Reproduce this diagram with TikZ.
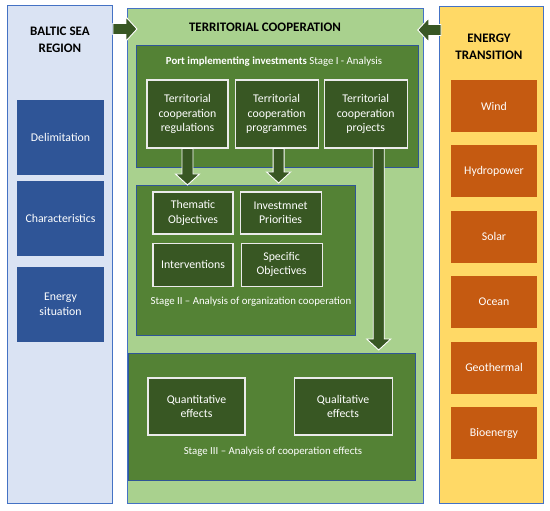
\documentclass[tikz,border=0pt]{standalone}
\usepackage{fontspec}
\setmainfont{Carlito}
\usetikzlibrary{positioning, calc}

\definecolor{balticbg}{HTML}{DAE3F3}
\definecolor{balticbox}{HTML}{2F5597}
\definecolor{panelline}{HTML}{4472C4}
\definecolor{coopbg}{HTML}{A9D18E}
\definecolor{stagebg}{HTML}{548235}
\definecolor{coopbox}{HTML}{385723}
\definecolor{energybg}{HTML}{FFD966}
\definecolor{energybox}{HTML}{C55A11}

\tikzset{
  panel/.style={draw=panelline, line width=0.8pt, anchor=north west, inner sep=0pt},
  stagebox/.style={panel, fill=stagebg, draw=balticbox},
  title/.style={font=\fontsize{13}{17}\selectfont\bfseries, align=center},
  stagetext/.style={text=white, font=\fontsize{10.8}{13}\selectfont},
  boxtext/.style={text=white, align=center, inner sep=0pt, font=\fontsize{11.8}{14.3}\selectfont},
  bluebox/.style={boxtext, fill=balticbox, minimum width=87pt, minimum height=75pt},
  orangebox/.style={boxtext, fill=energybox, minimum width=86pt, minimum height=52pt},
  greenbox/.style={boxtext, fill=coopbox, draw=white!92!black, line width=1.1pt},
  blockarrow/.style={fill=coopbox, draw=white, line width=0.9pt, line join=miter},
}

% block arrow from #2 to the tip #3
\newcommand{\blockarrow}[3][]{%
  \coordinate (ba-a) at #2;
  \coordinate (ba-b) at #3;
  \coordinate (ba-c) at ($(ba-b)!11pt!(ba-a)$);
  \draw[blockarrow,#1] ($(ba-a)!5.5pt!90:(ba-b)$) -- ($(ba-c)!5.5pt!90:(ba-b)$)
    -- ($(ba-c)!12pt!90:(ba-b)$) -- (ba-b) -- ($(ba-c)!12pt!-90:(ba-b)$)
    -- ($(ba-c)!5.5pt!-90:(ba-b)$) -- ($(ba-a)!5.5pt!-90:(ba-b)$) -- cycle;}

\begin{document}
\begin{tikzpicture}[x=1pt, y=-1pt]
  \useasboundingbox (0,0) rectangle (550,511);

  % three columns
  \node[panel, fill=balticbg, minimum width=105pt, minimum height=498pt] (baltic) at (7,5) {};
  \node[panel, fill=coopbg, minimum width=296pt, minimum height=495pt] (coop) at (127,8) {};
  \node[panel, fill=energybg, minimum width=104pt, minimum height=497pt] (energy) at (439,6) {};

  \node[title] (baltictitle) at (60,40) {BALTIC SEA\\REGION};
  \node[title] (cooptitle) at (265,27) {TERRITORIAL COOPERATION};
  \node[title] (energytitle) at (489,47) {ENERGY\\TRANSITION};

  % Baltic Sea Region
  \node[bluebox] (delim) at (60.5,137.5) {Delimitation};
  \node[bluebox] (charact) [below=6pt of delim] {Characteristics};
  \node[bluebox] (situation) [below=10pt of charact] {Energy\\situation};

  % Energy transition
  \node[orangebox] (wind) at (494,106) {Wind};
  \node[orangebox] (hydro) [below=13pt of wind] {Hydropower};
  \node[orangebox] (solar) [below=13pt of hydro] {Solar};
  \node[orangebox] (ocean) [below=13pt of solar] {Ocean};
  \node[orangebox] (geo) [below=13pt of ocean] {Geothermal};
  \node[orangebox] (bio) [below=13pt of geo] {Bioenergy};

  % Stage I
  \node[stagebox, minimum width=282pt, minimum height=122pt] (stageI) at (136,45) {};
  \node[stagetext] (stageItext) at (274,62) {\textbf{Port implementing investments} Stage I - Analysis};
  \node[greenbox, minimum width=81pt, minimum height=68pt] (regul) at (187.5,114) {Territorial\\cooperation\\regulations};
  \node[greenbox, minimum width=83pt, minimum height=68pt] (progr) [right=6pt of regul] {Territorial\\cooperation\\programmes};
  \node[greenbox, minimum width=83pt, minimum height=68pt] (proj) [right=5pt of progr] {Territorial\\cooperation\\projects};

  % Stage II
  \node[stagebox, minimum width=219pt, minimum height=150pt] (stageII) at (136,185) {};
  \node[greenbox, minimum width=80pt, minimum height=42pt] (thematic) at (193,213) {Thematic\\Objectives};
  \node[greenbox, minimum width=81pt, minimum height=42pt] (invest) [right=6pt of thematic] {Investmnet\\Priorities};
  \node[greenbox, minimum width=80pt, minimum height=43pt] (interv) [below=8pt of thematic] {Interventions};
  \node[greenbox, minimum width=81pt, minimum height=43pt] (specific) [right=7pt of interv] {Specific\\Objectives};
  \node[stagetext] (stageIItext) at (251,302) {Stage II -- Analysis of organization cooperation};

  % Stage III
  \node[stagebox, minimum width=287pt, minimum height=127pt] (stageIII) at (128,353) {};
  \node[greenbox, minimum width=97pt, minimum height=57pt] (quant) at (196.5,406.5) {Quantitative\\effects};
  \node[greenbox, minimum width=98pt, minimum height=57pt] (qual) [right=48pt of quant] {Qualitative\\effects};
  \node[stagetext] (stageIIItext) at (273,452) {Stage III -- Analysis of cooperation effects};

  % arrows
  \blockarrow{($(baltic.north east)+(0,24)$)}{($(coop.north west)+(10,21)$)}
  \blockarrow{($(energy.north west)+(2,24)$)}{($(coop.north east)+(-6,22)$)}
  \blockarrow{(regul.south)}{(regul.south |- stageII.north)}
  \blockarrow{($(progr.south)+(2,0)$)}{($(progr.south |- stageII.north)+(2,-2)$)}
  \blockarrow{($(proj.south)+(13,0)$)}{($(proj.south |- stageIII.north)+(13,-3)$)}
\end{tikzpicture}
\end{document}
